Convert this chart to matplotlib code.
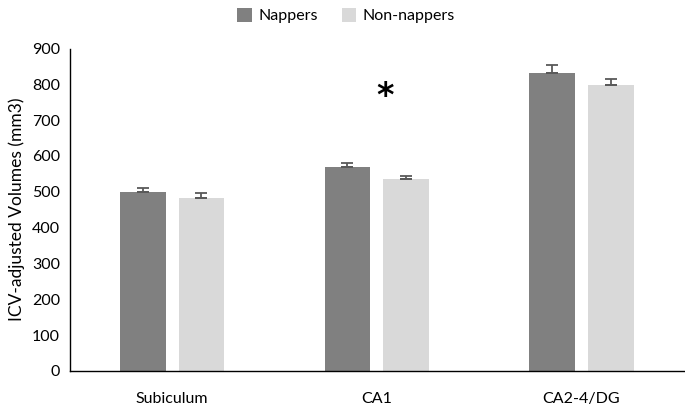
import numpy as np
import matplotlib.pyplot as plt

# Data
regions = ["Subiculum", "CA1", "CA2-4/DG"]
nappers = [500, 568, 832]
nappers_err = [12, 13, 22]
non_nappers = [483, 536, 798]
non_nappers_err = [13, 9, 18]

plt.rcParams["font.family"] = ["Lato", "DejaVu Sans"]

fig = plt.figure(figsize=(6.85, 4.08), dpi=100)
ax = fig.add_axes([0.102, 0.091, 0.896, 0.790])

x = np.arange(len(regions))
w = 0.224
off = 0.143

ax.bar(x - off, nappers, w, color="#808080", label="Nappers", zorder=2)
ax.bar(x + off, non_nappers, w, color="#d9d9d9", label="Non-nappers", zorder=2)

# plus-only error bars with a small bar at the top of each bar
for xs, vals, errs in [(x - off, nappers, nappers_err), (x + off, non_nappers, non_nappers_err)]:
    ax.errorbar(xs, vals, yerr=[np.zeros(len(vals)), errs], fmt="_", ms=8, mew=1.3,
                color="#595959", ecolor="#595959", elinewidth=1.3, capsize=4, capthick=1.3, zorder=3)

# significance marker
ax.text(1.04, 767, "*", ha="center", va="center", fontsize=24, fontweight="bold",
        family="DejaVu Sans")

ax.set_xlim(-0.5, 2.5)
ax.set_ylim(0, 900)
ax.set_yticks(range(0, 901, 100))
ax.set_xticks(x)
ax.set_xticklabels(regions)
ax.tick_params(axis="both", length=0, labelsize=11.5, colors="black")
ax.tick_params(axis="x", pad=15)
ax.tick_params(axis="y", pad=7)
ax.set_ylabel("ICV-adjusted Volumes (mm3)", fontsize=12.5, labelpad=5)

for s in ["top", "right"]:
    ax.spines[s].set_visible(False)
ax.spines["left"].set_linewidth(1.0)
ax.spines["bottom"].set_linewidth(1.0)

fig.legend(loc="upper center", bbox_to_anchor=(0.505, 1.015), ncol=2, frameon=False,
           fontsize=11.5, handlelength=0.9, handleheight=0.9, columnspacing=1.5, handletextpad=0.4)

plt.savefig("out.png", dpi=100)
